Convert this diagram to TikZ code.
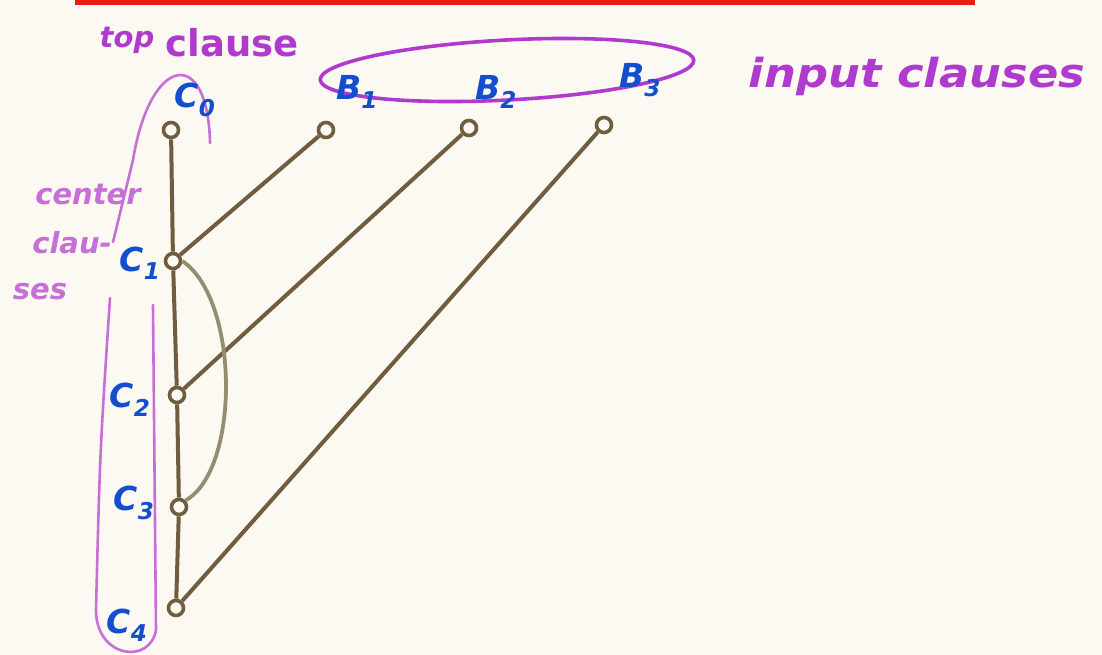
\documentclass[tikz,border=0pt]{standalone}
\usepackage{fontspec}
\setmainfont{DejaVu Sans}
\definecolor{paper}{RGB}{251,249,242}
\definecolor{redline}{RGB}{232,28,24}
\definecolor{purp}{RGB}{176,58,206}
\definecolor{lpurp}{RGB}{200,110,215}
\definecolor{blu}{RGB}{18,78,205}
\definecolor{brn}{RGB}{112,92,62}
\definecolor{lbrn}{RGB}{150,140,112}
\begin{document}
\begin{tikzpicture}[x=1pt,y=-1pt,
  vtx/.style={circle,draw=brn,fill=paper,line width=3.6pt,inner sep=0pt,minimum size=15pt},
  edge/.style={draw=brn,line width=4pt},
  bluelab/.style={text=blu,font=\fontsize{33}{36}\selectfont\itshape\bfseries,inner sep=0pt},
  purplab/.style={text=purp,inner sep=0pt},
  bracket/.style={draw=lpurp,line width=2.6pt,line cap=round}]
\useasboundingbox (0,0) rectangle (1102,655);
\fill[paper] (0,0) rectangle (1102,655);
\fill[redline] (75,0) rectangle (975,5);
% purple annotations
\node[purplab,font=\fontsize{29}{30}\selectfont\itshape\bfseries] (toplab) at (127,40) {top};
\node[purplab,font=\fontsize{37}{38}\selectfont\bfseries] (clauselab) at (232,43) {clause};
\node[purplab,text=lpurp,font=\fontsize{29}{30}\selectfont\itshape\bfseries] (cent1) at (88,195) {center};
\node[purplab,text=lpurp,font=\fontsize{29}{30}\selectfont\itshape\bfseries] (cent2) at (72,243) {clau-};
\node[purplab,text=lpurp,font=\fontsize{29}{30}\selectfont\itshape\bfseries] (cent3) at (40,292) {ses};
\node[purplab,font=\fontsize{40}{42}\selectfont\itshape\bfseries,xscale=1.12] (inputlab) at (917,76) {input\hspace{14pt}clauses};
\draw[bracket] (113,242) -- (133,160) .. controls (150,55) and (208,45) .. (210,143);
\draw[bracket] (110,298) .. controls (100,450) .. (96,610) .. controls (96,658) and (150,665) .. (156,630) -- (153,305);
\draw[draw=purp,line width=3.6pt,rotate around={3:(507,70)}] (507,70) ellipse [x radius=187pt,y radius=30pt];
% vertices
\node[vtx] (c0) at (171,130) {};
\node[vtx] (b1) at (326,130) {};
\node[vtx] (b2) at (469,128) {};
\node[vtx] (b3) at (604,125) {};
\node[vtx] (c1) at (173,261) {};
\node[vtx] (c2) at (177,395) {};
\node[vtx] (c3) at (179,507) {};
\node[vtx] (c4) at (176,608) {};
% labels
\node[bluelab] (lc0) at (195,100) {C\textsubscript{0}};
\node[bluelab] (lb1) at (357,92) {B\textsubscript{1}};
\node[bluelab] (lb2) at (496,92) {B\textsubscript{2}};
\node[bluelab] (lb3) at (640,80) {B\textsubscript{3}};
\node[bluelab] (lc1) at (140,263) {C\textsubscript{1}};
\node[bluelab] (lc2) at (130,400) {C\textsubscript{2}};
\node[bluelab] (lc3) at (134,503) {C\textsubscript{3}};
\node[bluelab] (lc4) at (127,625) {C\textsubscript{4}};
% edges
\draw[edge] (c0) -- (c1);
\draw[edge] (c1) -- (c2);
\draw[edge] (c2) -- (c3);
\draw[edge] (c3) -- (c4);
\draw[edge] (b1) -- (c1);
\draw[edge] (b2) -- (c2);
\draw[edge] (b3) -- (c4);
\draw[draw=lbrn,line width=3.8pt] (c1.east) .. controls (240,300) and (240,470) .. (c3.north east);
\end{tikzpicture}
\end{document}
